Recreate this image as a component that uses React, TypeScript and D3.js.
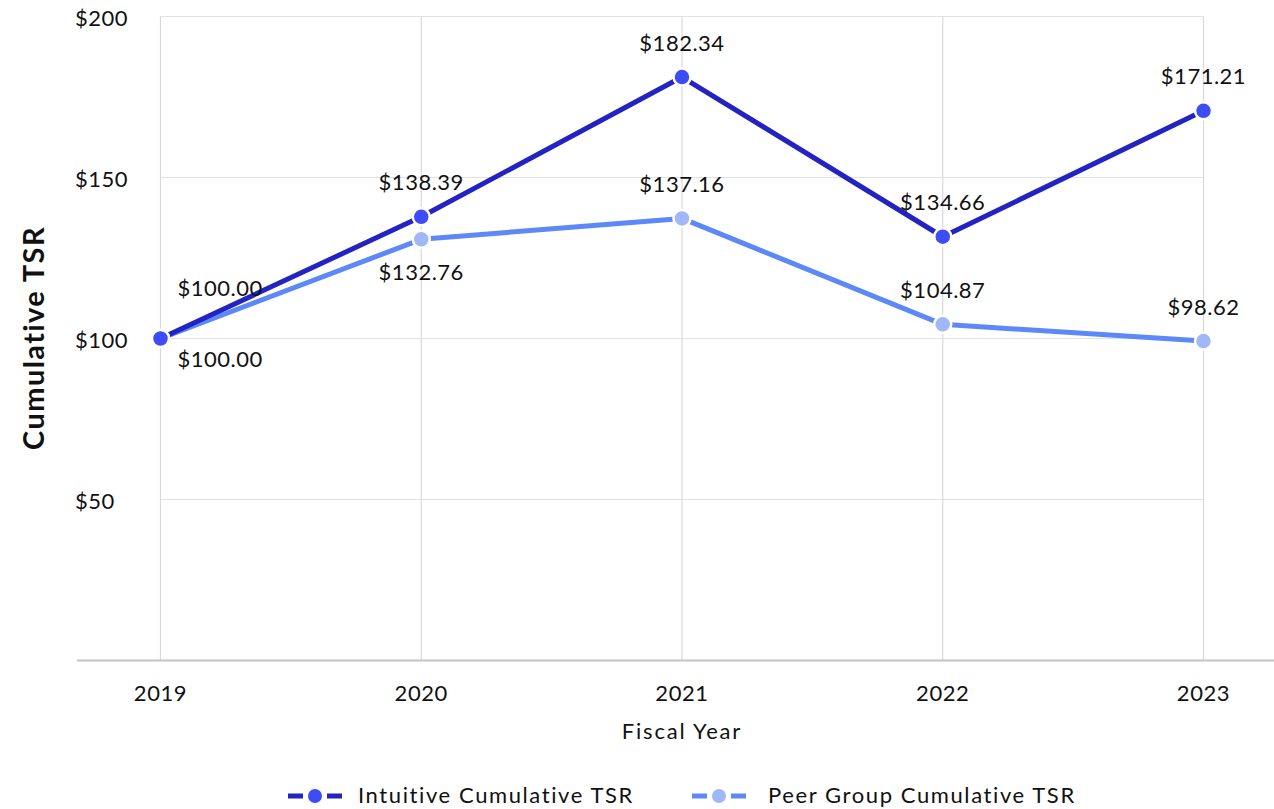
import React from 'react';
import * as d3 from 'd3';

const years = ['2019', '2020', '2021', '2022', '2023'];
const intuitiveValues = [100, 137.8, 181.2, 131.6, 170.7];
const peerValues = [100, 130.8, 137.3, 104.4, 99.2];
const intuitiveLabels = ['$100.00', '$138.39', '$182.34', '$134.66', '$171.21'];
const peerLabels = ['$100.00', '$132.76', '$137.16', '$104.87', '$98.62'];
const yTicks = [50, 100, 150, 200];
const seriesNames = ['Intuitive Cumulative TSR', 'Peer Group Cumulative TSR'];

const W = 1274;
const H = 809;
const FONT = 'Lato, "Noto Sans", sans-serif';

const C1_LINE = '#2323c3';
const C1_DOT = '#3d4cf6';
const C2_LINE = '#5d88f7';
const C2_DOT = '#a0b7fa';

// label placement: 'up', 'down', 'upright', 'downright'
const intuitivePlace = ['upright', 'up', 'up', 'up', 'up'];
const peerPlace = ['downright', 'down', 'up', 'up', 'up'];

export default function App() {
  const x = d3.scalePoint<string>().domain(years).range([160.5, 1203.5]);
  const y = d3.scaleLinear().domain([0, 200]).range([660.5, 16.5]);

  const line = d3
    .line<number>()
    .x((_, i) => x(years[i]) as number)
    .y((d) => y(d));

  const labelProps = (place: string, i: number, v: number) => {
    const px = x(years[i]) as number;
    const py = y(v);
    if (place === 'up') return { x: px, y: py - 35, anchor: 'middle' };
    if (place === 'down') return { x: px, y: py + 32, anchor: 'middle' };
    if (place === 'upright') return { x: px + 17, y: py - 51, anchor: 'start' };
    return { x: px + 17, y: py + 20, anchor: 'start' };
  };

  const series = [
    { values: intuitiveValues, labels: intuitiveLabels, place: intuitivePlace, lc: C1_LINE, dc: C1_DOT },
    { values: peerValues, labels: peerLabels, place: peerPlace, lc: C2_LINE, dc: C2_DOT },
  ];

  const legendItems = [
    { x0: 288, tx: 358, lc: C1_LINE, dc: C1_DOT, name: seriesNames[0] },
    { x0: 692, tx: 768, lc: C2_LINE, dc: C2_DOT, name: seriesNames[1] },
  ];

  return (
    <svg
      width={W}
      height={H}
      style={{ position: 'absolute', left: 0, top: 0, background: '#fff' }}
      fontFamily={FONT}
    >
      {/* horizontal gridlines */}
      {yTicks.map((t) => (
        <line key={'h' + t} x1={x(years[0])} x2={x(years[years.length - 1])} y1={y(t)} y2={y(t)} stroke="#e2e2e4" strokeWidth={1.2} />
      ))}
      {/* vertical gridlines */}
      {years.map((yr) => (
        <line key={'v' + yr} x1={x(yr)} x2={x(yr)} y1={y(200)} y2={y(0)} stroke="#d9d9dd" strokeWidth={1.2} />
      ))}
      {/* x axis line */}
      <line x1={77} x2={W} y1={y(0)} y2={y(0)} stroke="#c4c4c8" strokeWidth={2} />

      {/* y tick labels */}
      {yTicks.map((t) => (
        <text key={'yt' + t} x={75} y={y(t) + 1} dominantBaseline="central" fontSize={22} letterSpacing={0.5} fill="#111">
          {'$' + t}
        </text>
      ))}
      {/* x tick labels */}
      {years.map((yr) => (
        <text key={'xt' + yr} x={x(yr)} y={692} dominantBaseline="central" textAnchor="middle" fontSize={22} letterSpacing={0.6} fill="#111">
          {yr}
        </text>
      ))}
      {/* axis titles */}
      <text x={682} y={730} textAnchor="middle" dominantBaseline="central" fontSize={22} letterSpacing={1.8} fill="#111">
        Fiscal Year
      </text>
      <text
        transform={`translate(32,338) rotate(-90)`}
        textAnchor="middle"
        dominantBaseline="central"
        fontSize={29}
        fontWeight={700}
        letterSpacing={1.4}
        fill="#111"
      >
        Cumulative TSR
      </text>

      {/* lines */}
      {series.map((s, si) => (
        <path key={'l' + si} d={line(s.values) || ''} fill="none" stroke={s.lc} strokeWidth={5} strokeLinejoin="round" />
      )).reverse()}
      {/* dots */}
      {series.map((s, si) => (
        <g key={'d' + si}>
          {s.values.map((v, i) => (
            <circle key={i} cx={x(years[i])} cy={y(v)} r={8.5} fill={s.dc} stroke="#fff" strokeWidth={2.5} />
          ))}
        </g>
      )).reverse()}
      {/* labels */}
      {series.map((s, si) => (
        <g key={'t' + si}>
          {s.values.map((v, i) => {
            const p = labelProps(s.place[i], i, v);
            return (
              <text key={i} x={p.x} y={p.y} textAnchor={p.anchor} dominantBaseline="central" fontSize={22} letterSpacing={0.5} fill="#111">
                {s.labels[i]}
              </text>
            );
          })}
        </g>
      ))}

      {/* legend */}
      {legendItems.map((it) => (
        <g key={it.name}>
          <line x1={it.x0} x2={it.x0 + 54} y1={796} y2={796} stroke={it.lc} strokeWidth={5} strokeDasharray="15 24 15" strokeLinecap="butt" />
          <circle cx={it.x0 + 27} cy={796} r={7} fill={it.dc} />
          <text x={it.tx} y={794} dominantBaseline="central" fontSize={22} letterSpacing={1.6} fill="#111">
            {it.name}
          </text>
        </g>
      ))}
    </svg>
  );
}
